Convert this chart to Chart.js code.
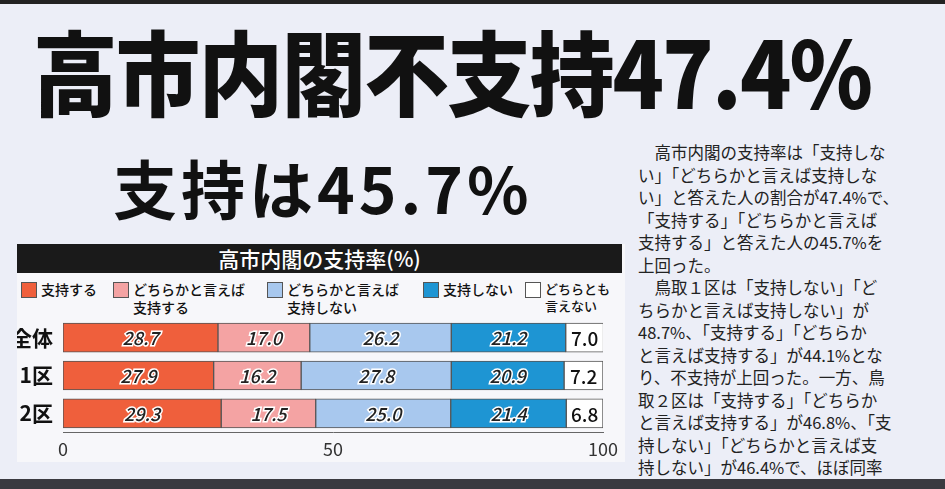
<!DOCTYPE html>
<html><head><meta charset="utf-8">
<script src="https://cdn.jsdelivr.net/npm/chart.js@4"></script>
<style>
body{margin:0;width:945px;height:489px;background:#eceef7;font-family:"Noto Sans CJK JP",sans-serif;position:relative;overflow:hidden}
#top{position:absolute;left:0;top:0;width:945px;height:4px;background:#222}
#bot{position:absolute;left:0;top:479px;width:945px;height:10px;background:#3a3a40}
#h1{position:absolute;left:33px;top:14px;font-size:92px;font-weight:900;letter-spacing:-2px;line-height:110px;color:#111;white-space:nowrap;transform:scaleX(0.92);transform-origin:left}
#h2{position:absolute;left:113px;top:146px;font-size:64px;font-weight:700;line-height:80px;color:#111;white-space:nowrap;letter-spacing:4px}
#panel{position:absolute;left:17px;top:244px;width:608px;height:218px;background:#f7f7fa}
#ptitle{position:absolute;left:0;top:0;width:605px;height:29px;background:#1a1a1a;color:#fff;font-size:21px;text-align:center;line-height:29px;font-weight:500}
.lg{position:absolute;top:36px;font-size:14px;line-height:18px;font-weight:500;color:#111;white-space:nowrap}
.lg i{position:absolute;left:0;top:2px;width:16px;height:16px;border:1px solid #555;box-sizing:border-box}
.lg span{display:block;padding-left:20px}
#txt{position:absolute;left:638px;top:141px;width:305px;font-family:"Noto Sans CJK JP";font-size:16.5px;line-height:22.5px;color:#222;white-space:pre}
#wrap{position:absolute;left:17px;top:304px;width:608px;height:156px}
</style></head><body>
<div id="top"></div>
<div id="h1">高市内閣不支持47.4%</div>
<div id="h2">支持は45.7%</div>
<div id="panel">
<div id="ptitle">高市内閣の支持率(%)</div>
<div class="lg" style="left:4px"><i style="background:#ef5f3c"></i><span>支持する</span></div>
<div class="lg" style="left:96px"><i style="background:#f4a3a3"></i><span>どちらかと言えば<br>支持する</span></div>
<div class="lg" style="left:250px"><i style="background:#a8c8ee"></i><span>どちらかと言えば<br>支持しない</span></div>
<div class="lg" style="left:406px"><i style="background:#1e95d3"></i><span>支持しない</span></div>
<div class="lg" style="left:508px"><i style="background:#fff"></i><span style="font-size:13px;line-height:17px">どちらとも<br>言えない</span></div>
</div>
<div id="wrap"><canvas id="c"></canvas></div>
<div id="txt">　高市内閣の支持率は「支持しな
い」「どちらかと言えば支持しな
い」と答えた人の割合が47.4%で、
「支持する」「どちらかと言えば
支持する」と答えた人の45.7%を
上回った。
　鳥取１区は「支持しない」「ど
ちらかと言えば支持しない」が
48.7%、「支持する」「どちらか
と言えば支持する」が44.1%とな
り、不支持が上回った。一方、鳥
取２区は「支持する」「どちらか
と言えば支持する」が46.8%、「支
持しない」「どちらかと言えば支
持しない」が46.4%で、ほぼ同率</div>
<div id="bot"></div>
<script>
const categories=["全体","1区","2区"];
const seriesNames=["支持する","どちらかと言えば支持する","どちらかと言えば支持しない","支持しない","どちらとも言えない"];
const s1=[28.7,27.9,29.3];
const s2=[17.0,16.2,17.5];
const s3=[26.2,27.8,25.0];
const s4=[21.2,20.9,21.4];
const s5=[7.0,7.2,6.8];
const tickLabels=[0,50,100];
const colors=["#ef5f3c","#f4a3a3","#a8c8ee","#1e95d3","#ffffff"];
const vals=[s1,s2,s3,s4,s5];
const labelPlugin={id:"lbl",afterDatasetsDraw(ch){const c=ch.ctx;ch.data.datasets.forEach((d,i)=>{ch.getDatasetMeta(i).data.forEach((b,j)=>{const x=(b.x+b.base)/2,y=b.y;const t=d.data[j].toFixed(1);c.save();c.textAlign="center";c.textBaseline="middle";if(i<4){c.font="italic 500 18px 'Noto Sans CJK JP'";c.lineWidth=3;c.strokeStyle="#fff";c.strokeText(t,x,y+1);c.fillStyle="#222";c.fillText(t,x,y+1);}else{c.font="500 19px 'Noto Sans CJK JP'";c.fillStyle="#111";c.fillText(t,x,y+1);}c.restore();});});}};
new Chart(document.getElementById("c"),{type:"bar",
data:{labels:categories,datasets:vals.map((v,i)=>({label:seriesNames[i],data:v,backgroundColor:colors[i],borderColor:"#555",borderWidth:1,borderSkipped:false,barThickness:29}))},
options:{indexAxis:"y",responsive:true,maintainAspectRatio:false,animation:false,
layout:{padding:{left:0,right:22,top:0,bottom:0}},
plugins:{legend:{display:false},tooltip:{enabled:false}},
scales:{x:{stacked:true,min:0,max:100,afterBuildTicks(a){a.ticks=tickLabels.map(v=>({value:v}));},grid:{display:false,drawTicks:true,tickLength:6,tickColor:"#666"},border:{color:"#666"},ticks:{color:"#333",font:{size:18,family:"Noto Sans CJK JP"},padding:0}},
y:{stacked:true,grid:{display:false},border:{display:false},afterFit(a){a.width=46;},ticks:{color:"#111",font:{size:21,weight:"bold",family:"Noto Sans CJK JP"},padding:2}}}},
plugins:[labelPlugin]});
</script>
</body></html>
